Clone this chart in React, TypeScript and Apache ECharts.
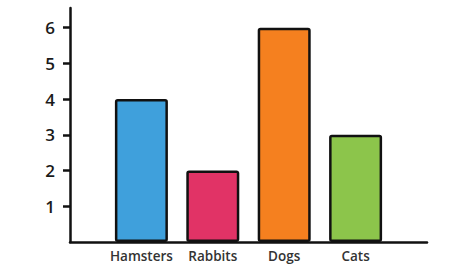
import React, { useEffect, useRef } from "react";
import * as echarts from "echarts";

const categories = ["Hamsters", "Rabbits", "Dogs", "Cats"];
const values = [4, 2, 6, 3];
const colors = ["#3fa0dc", "#e13366", "#f5801f", "#8cc54b"];
const yTicks = [1, 2, 3, 4, 5, 6];
const positions = [1, 2, 3, 4];

export default function App() {
  const ref = useRef<HTMLDivElement>(null);
  useEffect(() => {
    if (!ref.current) return;
    const chart = echarts.init(ref.current, undefined, { renderer: "svg" });
    chart.setOption({
      animation: false,
      grid: { left: 70, right: 47, top: 8, bottom: 28, containLabel: false },
      xAxis: {
        type: "value",
        min: 0,
        max: 5,
        interval: 1,
        splitLine: { show: false },
        axisTick: { show: false },
        axisLine: { show: true, lineStyle: { color: "#111", width: 2.5 } },
        axisLabel: {
          customValues: positions,
          formatter: (v: number) => categories[v - 1] ?? "",
          color: "#333",
          fontFamily: "Open Sans",
          fontWeight: 600,
          fontSize: 13.5,
          margin: 7,
        },
      },
      yAxis: {
        type: "value",
        min: 0,
        max: 6.55,
        interval: 1,
        splitLine: { show: false },
        axisLine: { show: true, lineStyle: { color: "#111", width: 2.5 } },
        axisTick: {
          show: true,
          customValues: yTicks,
          length: 7,
          lineStyle: { color: "#111", width: 2.5 },
        },
        axisLabel: {
          customValues: yTicks,
          color: "#1a1a1a",
          fontFamily: "Open Sans",
          fontWeight: 600,
          fontSize: 17,
          margin: 15,
        },
      },
      series: [
        {
          type: "bar",
          barWidth: 53,
          data: values.map((v, i) => ({
            value: [positions[i], v],
            itemStyle: {
              color: colors[i],
              borderColor: "#111",
              borderWidth: 2.5,
              borderRadius: 1.5,
            },
          })),
        },
      ],
    });
    return () => chart.dispose();
  }, []);
  return <div ref={ref} style={{ width: 474, height: 270, position: "absolute", left: 0, top: 0 }} />;
}
